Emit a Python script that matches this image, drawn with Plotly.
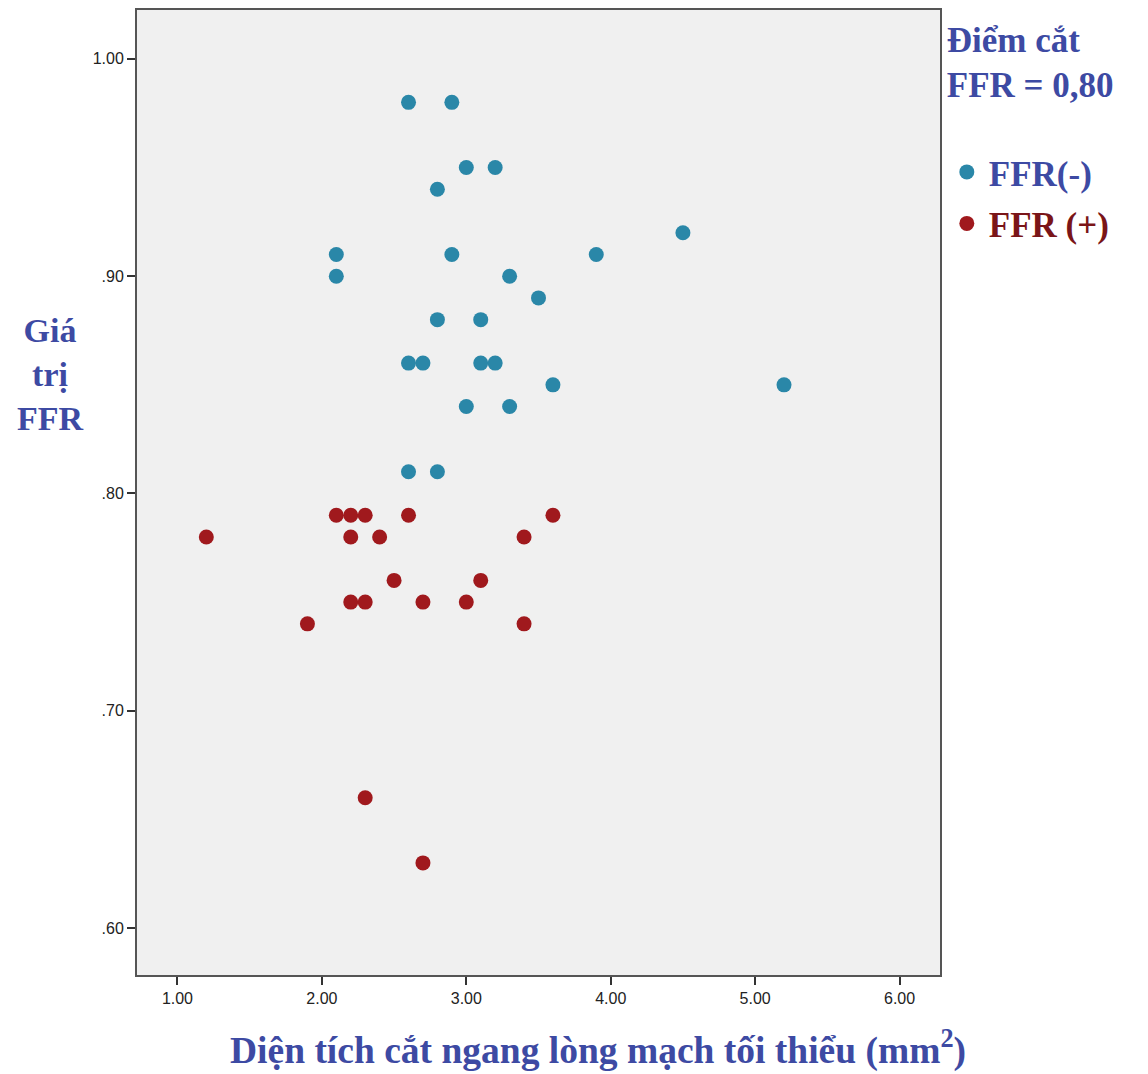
import plotly.graph_objects as go

# Data: minimum lumen area (mm2) vs FFR
neg_x = [2.6, 2.9, 3.0, 3.2, 2.8, 4.5, 2.1, 2.9, 3.9, 2.1, 3.3, 3.5, 2.8, 3.1,
         2.6, 2.7, 3.1, 3.2, 3.6, 5.2, 3.0, 3.3, 2.6, 2.8]
neg_y = [0.98, 0.98, 0.95, 0.95, 0.94, 0.92, 0.91, 0.91, 0.91, 0.90, 0.90, 0.89, 0.88, 0.88,
         0.86, 0.86, 0.86, 0.86, 0.85, 0.85, 0.84, 0.84, 0.81, 0.81]

pos_x = [1.2, 2.1, 2.2, 2.3, 2.6, 3.6, 2.2, 2.4, 3.4, 2.5, 3.1, 2.2, 2.3, 2.7, 3.0,
         1.9, 3.4, 2.3, 2.7]
pos_y = [0.78, 0.79, 0.79, 0.79, 0.79, 0.79, 0.78, 0.78, 0.78, 0.76, 0.76, 0.75, 0.75, 0.75, 0.75,
         0.74, 0.74, 0.66, 0.63]

x_tickvals = [1, 2, 3, 4, 5, 6]
x_ticktext = ["1.00", "2.00", "3.00", "4.00", "5.00", "6.00"]
y_tickvals = [0.6, 0.7, 0.8, 0.9, 1.0]
y_ticktext = [".60", ".70", ".80", ".90", "1.00"]

BLUE = "#2a87a8"
RED = "#a0191d"
TXT_BLUE = "#3d4aa3"
TXT_RED = "#7a1518"
SERIF = "Liberation Serif, Times New Roman, serif"
SANS = "Liberation Sans, Arial, sans-serif"

fig = go.Figure()
fig.add_trace(go.Scatter(
    x=neg_x, y=neg_y, mode="markers", name="<b>FFR(-)</b>",
    legendgroup="a",
    marker=dict(color=BLUE, size=15, line=dict(width=0)),
))
fig.add_trace(go.Scatter(
    x=pos_x, y=pos_y, mode="markers",
    name="<b><span style='color:%s'>FFR (+)</span></b>" % TXT_RED,
    legendgroup="b",
    marker=dict(color=RED, size=15, line=dict(width=0)),
))

fig.update_layout(
    width=1148, height=1074,
    margin=dict(l=137, r=208, t=10, b=99, autoexpand=False),
    paper_bgcolor="white",
    plot_bgcolor="#f0f0f0",
    showlegend=True,
    legend=dict(
        x=1.006, xanchor="left", y=1.004, yanchor="top",
        title=dict(text="<b>Điểm cắt<br>FFR = 0,80</b><br> ",
                   font=dict(family=SERIF, size=35, color=TXT_BLUE)),
        font=dict(family=SERIF, size=35, color=TXT_BLUE),
        bgcolor="rgba(0,0,0,0)",
        tracegroupgap=3,
        itemsizing="trace",
        itemwidth=34,
    ),
    xaxis=dict(
        range=[0.72, 6.28],
        tickvals=x_tickvals, ticktext=x_ticktext,
        ticks="outside", ticklen=8, tickwidth=2, tickcolor="#333",
        showline=True, linecolor="#555", linewidth=2, mirror=True,
        showgrid=False, zeroline=False,
        tickfont=dict(family=SANS, size=16, color="#222"),
    ),
    yaxis=dict(
        range=[0.5784, 1.0225],
        tickvals=y_tickvals, ticktext=y_ticktext,
        ticks="outside", ticklen=8, tickwidth=2, tickcolor="#333",
        showline=True, linecolor="#555", linewidth=2, mirror=True,
        showgrid=False, zeroline=False,
        tickfont=dict(family=SANS, size=16, color="#222"),
    ),
    annotations=[
        dict(
            text="<b>Giá<br>trị<br>FFR</b>",
            xref="paper", yref="paper", x=-0.108, y=0.622,
            xanchor="center", yanchor="middle", showarrow=False,
            font=dict(family=SERIF, size=34, color=TXT_BLUE),
            align="center",
        ),
        dict(
            text="<b>Diện tích cắt ngang lòng mạch tối thiểu (mm<sup>2</sup>)</b>",
            xref="paper", yref="paper", x=0.574, y=-0.076,
            xanchor="center", yanchor="middle", showarrow=False,
            font=dict(family=SERIF, size=37.5, color=TXT_BLUE),
        ),
    ],
)

fig.write_html("out.html")
